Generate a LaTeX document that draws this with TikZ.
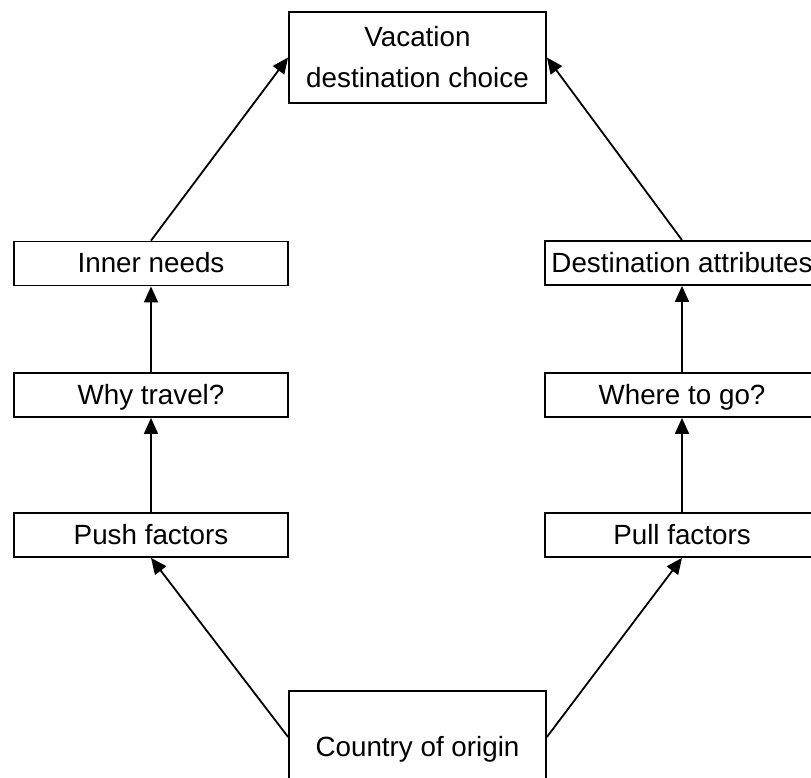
\documentclass[tikz,border=0pt]{standalone}
\usepackage{fontspec}
\setmainfont{Liberation Sans}
\usetikzlibrary{arrows.meta}

\begin{document}
\begin{tikzpicture}[
    x=1pt, y=-1pt,
    every node/.style={font=\fontsize{27.8}{42}\selectfont},
    box/.style={draw, line width=1.8pt, rectangle, inner sep=0pt,
                minimum height=44pt, text height=22pt, text depth=4pt},
    sidebox/.style={box, minimum width=274pt},
    bigbox/.style={draw, line width=1.8pt, rectangle, inner sep=0pt,
                   minimum width=257pt, align=center},
    link/.style={line width=1.8pt, -{Triangle[length=16pt,width=14pt]}}
  ]
  \useasboundingbox (0,0) rectangle (811,778);

  % goal at the top
  \node[bigbox, minimum height=91pt] (choice) at (417.5,57.5)
    {Vacation\\[-1pt]destination choice};

  % push side
  \node[sidebox] (inner) at (151,263.5) {Inner needs};
  \node[sidebox] (why)   at (151,395)   {Why travel?};
  \node[sidebox] (push)  at (151,535)   {Push factors};

  % pull side
  \node[sidebox] (attr)  at (682,263)   {Destination attributes};
  \node[sidebox] (where) at (682,395)   {Where to go?};
  \node[sidebox] (pull)  at (682,535)   {Pull factors};

  % origin at the bottom
  \node[bigbox, minimum height=108pt, text height=22pt, text depth=0pt] (origin)
    at (417.5,745) {Country of origin};

  % connectors
  \draw[link] ([yshift=8pt]origin.west) -- (push.south);
  \draw[link] (push.north) -- (why.south);
  \draw[link] (why.north) -- (inner.south);
  \draw[link] (inner.north) -- (choice.west);

  \draw[link] ([yshift=8pt]origin.east) -- (pull.south);
  \draw[link] (pull.north) -- (where.south);
  \draw[link] (where.north) -- (attr.south);
  \draw[link] (attr.north) -- (choice.east);
\end{tikzpicture}
\end{document}
